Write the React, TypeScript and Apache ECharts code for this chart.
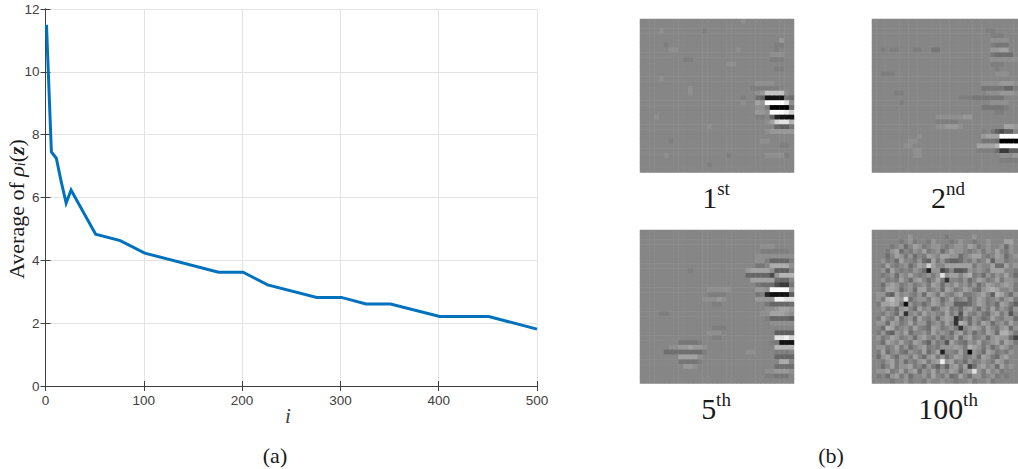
import React, { useEffect, useRef } from "react";
import * as echarts from "echarts";

const iterations = [1, 6, 11, 16, 21, 26, 51, 76, 101, 176, 201, 226, 276, 301, 326, 351, 401, 451, 500];
const averageRho = [11.5, 7.45, 7.25, 6.5, 5.82, 6.24, 4.83, 4.63, 4.23, 3.62, 3.62, 3.22, 2.82, 2.82, 2.61, 2.61, 2.21, 2.21, 1.81];
const xTicks = [0, 500];
const yTicks = [0, 12];
const captions = ["1", "2", "5", "100"];
const suffixes = ["st", "nd", "th", "th"];

// Each character is a grey level in base 36: 0 black, a mid grey, k white.
const panelFirst = [
  "aaaaaaaaaaaaaaaaaaaaabaaaaaaaaaa",
  "aaaaaaaaaaaaaaaaaaaaaaaaaaaaaaaa",
  "aaaabaaaaaaaa9aaaaaaaaaaaaaaaaaa",
  "aaaaaaaaaaaaaaaaaaaaaaaaaaaaaaaa",
  "aaaaaaaaaaaaaaaaaaaaaaaaaaaaacaa",
  "aaaaa9aaaaaaaaaaaaaaaaaaaaaa99aa",
  "aaaaaabbaaaaaaaaaaaabaaaaaaa9aaa",
  "aaaaaaaaaaaaaaaaaaaaaaaaaaabbbaa",
  "aaaaaaaaa99aaaaaaaaaaaaaaaa999aa",
  "aaaaaaaaaaaaaaaaaabbaaaaaaaaaaaa",
  "aaaaaaaaaaaaaaaaaaaaaaaaaaaa99aa",
  "aaaaaaaaaaaaaaaaaaaaaaaaaaaaaaaa",
  "aaaabaaaaaaaaaaaaaaaaaaaaaaaaaaa",
  "aaaaaaaaaaaaaaaaaaaaaaaabbbbaaaa",
  "aaaaaaaaaabaaaaaaaaaaaa999999aaa",
  "aaaaaaaaaabaaaaaaaaaaaaabcggggba",
  "aaaaaaaaaaaaaaaaaaaaa9aa76111187",
  "aaaaaaaaaaaaaaaaaaaaabaadckkkkib",
  "aaaaaaaaaaaaaaaaaaaaaaaabb900007",
  "aaaaaaaaaaaaaaaaaaaaaaaaccbkkkjh",
  "aaabaaaaaaaaaaaaaaaaaaaa99a62111",
  "aaaaaaaaaaaaaaaaaaaaaaaaaabdhiif",
  "aaaaaaaaaaaaaabaaaaaaaaaaaaa6558",
  "aaaaaaaaaaaaaaaaaaaaaaaaaabccccc",
  "aaaaaaaaaaaaaaaaaaaaaaaaaaaaaaaa",
  "aaaaaa9aaaaaaaaaaaaaaaaaabbaaaaa",
  "aaaaaaaaaaaaaaaaaaaaaaaaaaaaa99a",
  "aaaaaaaaaaaaaaaaaaaaaaaaaaaaaaaa",
  "aaaaabaaaaaaaaaaaa9aaaaaaabbbb9a",
  "aaaaaaaaaaaaaaaaaaaaaaaaaaaaaaaa",
  "aaaaaaaaaaaaaa9aaaaaaaaaaaaaaaaa",
  "aaaaaaaaaaaaaaaaaaaaaaaaaaaaaaaa",
];
const panelSecond = [
  "aaaaaaaaaaaaaaaaaaaaaaaaaaaaaaaa",
  "aaaaaaaaaaaaaaaaaaaaaaaaaaaaaaaa",
  "aaaaaaaaaaaaaaaaaaaaaaaaa99aaaaa",
  "aaaaaaaaaaaaaaaaaaaaaaaaaa999aaa",
  "aaaaaaaaaaaaaaaaaaaaaaaaaabbbbaa",
  "aaaaaaaaaaaaaaaaaaaaaaaaaa9888aa",
  "aa9a99aaa99aa88aaaaaaaaaaaccddaa",
  "aaaaaaaaaaaaaaaaaaaaaaaaaa87777a",
  "aaaaaaaaaaaaaaaaaaaaaaaaaabbbbbb",
  "aaaaaaaaaaaaaaaaaaaaaaaaaa999aaa",
  "aaaaaaaaaaaaaaaaaaaaaaaaaaa9aaaa",
  "aa999aaaaaaaaaaaaaaaaaaaaaabbbaa",
  "aaaaaaaaaaaaaaaaaaaaaaaaaaaaaaaa",
  "aaaaaaaaaaaaaaaaaaaaaaaabbbbcccb",
  "aaaaaaaaaaaaaaaaaaaaaaaa88888669",
  "aaaaa99aaaaaaaaaaaaaaaaaabbbcccb",
  "aaaaaaaaaaaaaaaaaaa9998888888aaa",
  "aaaaaa9aaaaaaaaaaaaaaaaaaabbbbaa",
  "aaaaaaaaaaaaaaaaaaaaaaaa888889aa",
  "aaaaaaaaaaaaaaaaaaaaaaaaaaa99aaa",
  "aaaaaaaaaaaaaabbbbbbccaaaaaaaaaa",
  "aaaaaaaaaaaaaa99999aaaaaaaaaaaaa",
  "aaaaaaaaaaaaaabbcccbaaaaaaaaaddc",
  "aaaaaaaaaaaaaaaaaaaaaaaa9a85455a",
  "aaaaaaaaaabaaaaaaaaaaaaacdddkkkk",
  "aaaaaaaabbaaaaaaaaaaaaaa88870000",
  "aaaaaaabbaaaaaaaaaaaaaaddddfkkkk",
  "aaaaaaaaabbaaaaaaaaaaaa999973355",
  "aaaaaaaaabbaaaaaaaaaaaaaaaaabbbc",
  "aaaaaaaaaaaaaaaaaaaaaaaaaaaa9999",
  "aaaaaaaaaaaaaaaaaaaaaaaaaaaaaaaa",
  "aaaaaaaaaaaaaaaaaaaaaaaaaaaaaaaa",
];
const panelFifth = [
  "aaaaaaaaaaaaaaaaaaaaaaaaaaaaaaaa",
  "aaaaaaaaaaaaaaaaaaaaaaaaaaaaaaaa",
  "aaaaaaaaaaaaaaaaaaaaaaaaaaaaaaaa",
  "aaaaaaaaaaaaaaaaaaaaaaaaabbbaaaa",
  "aaaaaaaaaaaaaaaaaaaaaaaaa999999a",
  "aaaaaaaaaaaaaaaaaaaaaaaabbbbbbbb",
  "aaaaaaaaaaaaaaaaaaaaaaaabb966669",
  "aaaaaaaaaaaaaaaaaaaaaaaa88aeeeeb",
  "aaaaaaaaaa9aaaaaaaaaaacddddb5559",
  "aaaaaaaaaaaaaaaaaaaaaa666664cfff",
  "aaaaaaaaaaaaaaaaaaaaaaaddddd766a",
  "aaaaaaaaaaaaaaaaaaaaaaaa87774338",
  "aaaaaaaaaaaaaabbbbbaaaaaccbkkkkc",
  "aaaaaaaaaaaaaa9999aaaaaa89211115",
  "aaaaaaaaaaaaabbbcbaaaaaaccccjjii",
  "aaaaaaaaaaaaaaa99aaaaaaaaa866667",
  "aaaaaaaaaaaaaaaaaaaaaaaaaabbcddc",
  "aaaa99aaaaaaaaaaaaaaaaaaabbdddcb",
  "aaaaaaaaaaaaaaaaaaaaaaaaaa966665",
  "aaaaaaaaaaaaaaaaaaaaaaaaaaabbbbb",
  "aaaaaaaaaaaaaaa999aaaaaaaaaaaaaa",
  "aaaaaaaaaaaaaabbbaaaaaaaaaaa5555",
  "aaaaaaaaaaaaaaa99aaaaaaaaaaaiijh",
  "aaaaaaaa88889aaaaaaaaaaaaaa98111",
  "aaaaaabbccdccbaaaaaaaaaaaaaaffff",
  "aaaaa777777779aaaaaaaabbaaaa999a",
  "aaaaaaaaddddbaaaaaaaaaaaaaaa6666",
  "aaaaaaaa88889aaaaaaaaaaaaaaaaeea",
  "aaaaaaaaaccbaaaaaaaaaaaaaaaa7777",
  "aaaaaaaaaaaaaaaaaaaaaaaaaabbcccb",
  "aaaaaaaaaaaaaaaaaaaaaaaaaa99888a",
  "aaaaaaaaaaaaaaaaaaaaaaaaaaaaaaaa",
];
const panelHundredth = [
  "aaaaaaaaaaaaaaaaaaaaaaaaaaaaaaaa",
  "aaaaaaaabaaaaaaa9aaaaabaaaaaaaaa",
  "aaaaaa9ab9aa9baaa9abaa9aabaaacca",
  "aaaa9ab8acb9abba9abbacb9abaab8ba",
  "aaa9bc8a9bac9ab8acbba9ab9baca9ba",
  "aaa8acb9b8a9cbaccbb8abcca9acb8ab",
  "aab9a8caa9b87c9b8778a9b9ac7bb9aa",
  "aa9ca9ab8acbfcaacccccc9baac88cab",
  "aab8ca9a9ba83bb57a667baba9cccaa9",
  "aa9ab8baca9ab9bgbccacd9a8b9baca8",
  "aab9a9ca8bca8ac94aa9b8acb9ac9bba",
  "aa8bcb9ab9ab9cb8bacab9b8acbabcb9",
  "aa9ccb8ab8cc9ab8cb9acb98bcdcaab9",
  "abb87caba9b8cb9ca9bc99abca7dca8b",
  "ab9decbg8abb9cb8ac9ab8acb9ab9bc9",
  "a9ccdc91b9a8acb9bb7778acb9a8cb97",
  "aab9a8bca8cab89bc9a8bca8b9c9ba8b",
  "aa9ba8c4ab9caba9c9b6ca9b98bc9b6a",
  "a9ca9c8ab8ca9b8bcb47a8ba89ca9bb8",
  "abb8cb9ac9bb8ab9ca4dc8b9cb8ab9ca",
  "aa8dc9ab9ca98cb9ab94abcb9ca9bc8b",
  "a9b87bac8aab9caba8bc9b8a9cb8ddb9",
  "ab9acb9ab8bca9b8a9c8bc9ab8bcbb85",
  "aa8cbaca9cb97b9a6ca98bac9abc9cb9",
  "abb9ac9b8abc9a9bbbcb9dcb9b8acb9a",
  "a9c8ab98ba9c8ac3aa9c92ba8cb9a9ba",
  "a8bca8bb9ca8bc9b8acb9ab8cb98bcaa",
  "aa9bc9b8a9bc9bchbc9a8b9aba9cb9aa",
  "aa8ac9bbc9a8b97a7bc9c58bcab8caba",
  "abbc9ac9bc8bac9bacb8bcgb9cab9aaa",
  "a9a8bc9b8aab9ca9b89ca8bb9ab9a9aa",
  "aaaa9aab9aa9baabaa9aab9aab9aaaaa",
];
const panels = [panelFirst, panelSecond, panelFifth, panelHundredth];

const SERIF = "'Liberation Serif', serif";
const SANS = "'Liberation Sans', Arial, sans-serif";
const INK = "#1a1a1a";
const panelLeft = [640, 872, 640, 872];
const panelTop = [19, 19, 230, 230];
const indices = panelFirst.map((_, i) => String(i));

function cells(rows: string[]) {
  const out: number[][] = [];
  rows.forEach((row, y) => {
    for (let x = 0; x < row.length; x++) out.push([x, y, parseInt(row[x], 36)]);
  });
  return out;
}

export default function App() {
  const ref = useRef<HTMLDivElement>(null);
  useEffect(() => {
    const chart = echarts.init(ref.current!, undefined, { renderer: "svg" });
    const axisLine = { show: true, lineStyle: { color: "#404040", width: 1 } };
    const grids: any[] = [
      { left: 45.5, top: 9, width: 491.5, height: 377, containLabel: false },
      ...panels.map((_, i) => ({ left: panelLeft[i], top: panelTop[i], width: 154, height: 153.5 })),
    ];
    const hiddenX = panels.map((_, i) => ({
      type: "category", gridIndex: i + 1, data: indices, show: false,
    }));
    const hiddenY = panels.map((_, i) => ({
      type: "category", gridIndex: i + 1, data: indices, show: false, inverse: true,
    }));
    chart.setOption({
      animation: false,
      backgroundColor: "#ffffff",
      grid: grids,
      visualMap: [
        {
          show: false,
          seriesIndex: [1, 2, 3],
          min: 0,
          max: 20,
          dimension: 2,
          inRange: { color: ["#000000", "#5f5f5f", "#868686", "#b4b4b4", "#ffffff"] },
        },
        {
          show: false,
          seriesIndex: [4],
          min: 2,
          max: 18,
          dimension: 2,
          inRange: { color: ["#101010", "#565656", "#868686", "#bcbcbc", "#ffffff"] },
          outOfRange: { color: ["#101010"] },
        },
      ],
      xAxis: [
        {
          type: "value", gridIndex: 0, min: xTicks[0], max: xTicks[1], interval: 100,
          axisLine, position: "bottom",
          axisTick: { show: true, inside: true, length: 5, lineStyle: { color: "#404040" } },
          axisLabel: { color: "#404040", fontFamily: SANS, fontSize: 13.5, margin: 7, showMinLabel: true, showMaxLabel: true },
          splitLine: { show: true, lineStyle: { color: "#e3e3e3", width: 1 } },
        },
        {
          type: "value", gridIndex: 0, min: xTicks[0], max: xTicks[1], interval: 100, position: "top",
          axisLine, axisTick: { show: true, inside: true, length: 5, lineStyle: { color: "#404040" } },
          axisLabel: { show: false }, splitLine: { show: false },
        },
        ...hiddenX,
      ],
      yAxis: [
        {
          type: "value", gridIndex: 0, min: yTicks[0], max: yTicks[1], interval: 2,
          axisLine, position: "left",
          axisTick: { show: true, inside: true, length: 5, lineStyle: { color: "#404040" } },
          axisLabel: { color: "#404040", fontFamily: SANS, fontSize: 13.5, margin: 6, showMinLabel: true, showMaxLabel: true },
          splitLine: { show: true, lineStyle: { color: "#e3e3e3", width: 1 } },
        },
        {
          type: "value", gridIndex: 0, min: yTicks[0], max: yTicks[1], interval: 2, position: "right",
          axisLine, axisTick: { show: true, inside: true, length: 5, lineStyle: { color: "#404040" } },
          axisLabel: { show: false }, splitLine: { show: false },
        },
        ...hiddenY,
      ],
      series: [
        {
          type: "line", xAxisIndex: 0, yAxisIndex: 0,
          data: iterations.map((v, i) => [v, averageRho[i]]),
          showSymbol: false, symbol: "none",
          lineStyle: { color: "#0072BD", width: 3, join: "miter" },
          z: 5,
        },
        ...panels.map((rows, i) => ({
          type: "heatmap", xAxisIndex: i + 2, yAxisIndex: i + 2,
          data: cells(rows),
          itemStyle: { borderWidth: 0 },
          progressive: 0,
        })),
      ],
      graphic: [
        ...captions.map((c, i) => ({
          type: "text",
          x: panelLeft[i] + 76,
          y: panelTop[i] + 193,
          style: {
            text: `{a|${c}}{s|${suffixes[i]}}`,
            align: "center",
            verticalAlign: "bottom",
            rich: {
              a: { fontFamily: SERIF, fontSize: 30, fill: INK, color: INK, lineHeight: 33, verticalAlign: "bottom" },
              s: { fontFamily: SERIF, fontSize: 19, fill: INK, color: INK, lineHeight: 22, verticalAlign: "top" },
            },
          },
        })),
        {
          type: "text", x: 16, y: 209, rotation: Math.PI / 2,
          style: {
            text: "{t|Average of }{g|ρ}{s|i}{t|(}{z|z}{t|)}",
            align: "center",
            verticalAlign: "middle",
            rich: {
              t: { fontFamily: SERIF, fontSize: 22, fill: INK, color: INK },
              g: { fontFamily: SERIF, fontStyle: "italic", fontSize: 22, fill: INK, color: INK },
              s: { fontFamily: SERIF, fontStyle: "italic", fontSize: 14, fill: INK, color: INK, verticalAlign: "bottom" },
              z: { fontFamily: SERIF, fontStyle: "italic", fontWeight: "bold", fontSize: 22, fill: INK, color: INK },
            },
          },
        },
        {
          type: "text", x: 288, y: 416,
          style: { text: "i", align: "center", verticalAlign: "middle", fontFamily: SERIF, fontStyle: "italic", fontSize: 21, fill: "#404040" },
        },
        {
          type: "text", x: 275, y: 455,
          style: { text: "(a)", align: "center", verticalAlign: "middle", fontFamily: SERIF, fontSize: 22, fill: INK },
        },
        {
          type: "text", x: 831, y: 455,
          style: { text: "(b)", align: "center", verticalAlign: "middle", fontFamily: SERIF, fontSize: 22, fill: INK },
        },
      ],
    });
    return () => chart.dispose();
  }, []);
  return <div ref={ref} style={{ position: "fixed", left: 0, top: 0, width: 1018, height: 469 }} />;
}
